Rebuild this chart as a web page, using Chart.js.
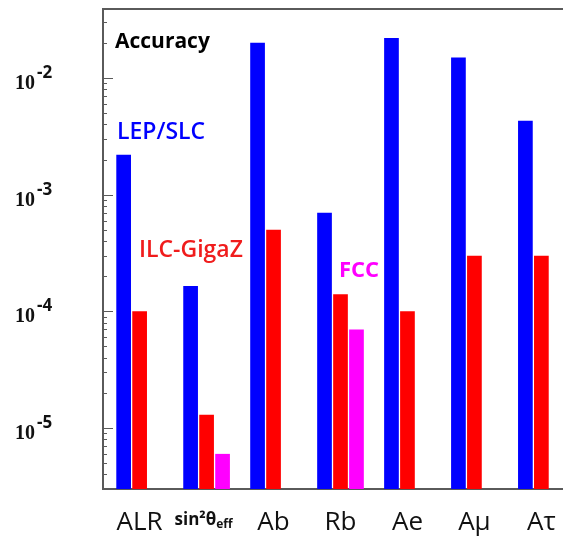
<!DOCTYPE html>
<html>
<head>
<meta charset="utf-8">
<title>Accuracy</title>
<script src="https://cdn.jsdelivr.net/npm/chart.js@4.4.1/dist/chart.umd.min.js"></script>
<style>
  html, body { margin: 0; padding: 0; background: #fff; }
</style>
</head>
<body>
<canvas id="chartAccuracy" width="563" height="541"></canvas>
<script>
// values (log scale)
const categories = ['ALR', 'sin²θeff', 'Ab', 'Rb', 'Ae', 'Aμ', 'Aτ'];
const lepSlc   = [2.2e-3, 1.65e-4, 2.0e-2, 7.0e-4, 2.2e-2, 1.5e-2, 4.3e-3];
const ilcGigaZ = [1.0e-4, 1.3e-5, 5.0e-4, 1.4e-4, 1.0e-4, 3.0e-4, 3.0e-4];
const fcc      = [null, 6.0e-6, null, 7.0e-5, null, null, null];
const yTickValues = [1e-5, 1e-4, 1e-3, 1e-2];
const yTickExponents = ['-5', '-4', '-3', '-2'];

const axisColor = '#5a5a5a';

// frame, inward ticks, labels and the notes inside the plot
const decor = {
    id: 'decor',
    afterDraw(chart) {
        const ctx = chart.ctx;
        const area = chart.chartArea;
        const y = chart.scales.y;
        const x = chart.scales.x;
        ctx.save();

        ctx.strokeStyle = axisColor;
        ctx.lineWidth = 2;
        ctx.beginPath();
        ctx.moveTo(area.left, area.top);
        ctx.lineTo(chart.width, area.top);
        ctx.stroke();

        ctx.lineWidth = 1;
        y.ticks.forEach(t => {
            const py = Math.round(y.getPixelForValue(t.value)) + 0.5;
            ctx.beginPath();
            ctx.moveTo(area.left, py);
            ctx.lineTo(area.left + (t.major ? 10 : 4), py);
            ctx.stroke();
        });

        ctx.fillStyle = '#111';
        ctx.textAlign = 'left';
        ctx.textBaseline = 'alphabetic';
        yTickValues.forEach((v, i) => {
            const py = y.getPixelForValue(v);
            ctx.font = 'bold 20px "Liberation Serif"';
            ctx.fillText('10', 15, py + 11);
            ctx.font = 'bold 17px "Open Sans"';
            ctx.fillText(yTickExponents[i], 37, py);
        });

        // sin²θ with subscript eff
        const cx = x.getPixelForValue(1);
        ctx.font = 'bold 17px "Open Sans"';
        const w1 = ctx.measureText('sin²θ').width;
        ctx.font = 'bold 12px "Open Sans"';
        const w2 = ctx.measureText('eff').width;
        const left = cx - (w1 + w2) / 2 - 3;
        ctx.font = 'bold 17px "Open Sans"';
        ctx.fillText('sin²θ', left, 525);
        ctx.font = 'bold 12px "Open Sans"';
        ctx.fillText('eff', left + w1, 528);

        ctx.font = 'bold 21px "Open Sans"';
        ctx.fillStyle = '#000';
        ctx.fillText('Accuracy', 115, 48);
        ctx.font = '600 23px "Open Sans"';
        ctx.fillStyle = '#0000ff';
        ctx.fillText('LEP/SLC', 117, 139);
        ctx.fillStyle = '#f01c1c';
        ctx.fillText('ILC-GigaZ', 139, 257);
        ctx.font = 'bold 22px "Open Sans"';
        ctx.fillStyle = '#ff00ff';
        ctx.fillText('FCC', 339, 277);
        ctx.restore();
    }
};

const toPoints = arr => arr.map((v, i) => ({ x: i, y: v }));

new Chart(document.getElementById('chartAccuracy'), {
    type: 'bar',
    data: {
        datasets: [
            { label: 'LEP/SLC', data: toPoints(lepSlc), backgroundColor: '#0000ff' },
            { label: 'ILC-GigaZ', data: toPoints(ilcGigaZ), backgroundColor: '#ff0000' },
            { label: 'FCC', data: toPoints(fcc), backgroundColor: '#ff00ff' }
        ]
    },
    options: {
        responsive: false,
        animation: false,
        categoryPercentage: 0.716,
        barPercentage: 0.92,
        layout: { padding: { left: 103, top: 9, right: 0, bottom: 0 } },
        plugins: { legend: { display: false }, tooltip: { enabled: false } },
        scales: {
            x: {
                type: 'linear',
                offset: false,
                min: -0.547,
                max: 6.323,
                afterBuildTicks: s => { s.ticks = categories.map((c, i) => ({ value: i })); },
                afterFit: s => { s.height = 52; s.paddingLeft = 0; s.paddingRight = 0; },
                grid: { display: false, drawTicks: false, offset: false },
                border: { display: true, color: axisColor, width: 2 },
                ticks: {
                    autoSkip: false,
                    maxRotation: 0,
                    padding: 18,
                    color: '#111',
                    font: { family: 'Open Sans', size: 26 },
                    callback: v => (v === 1 ? '' : categories[v])
                }
            },
            y: {
                type: 'logarithmic',
                min: 3e-6,
                max: 3.9e-2,
                afterBuildTicks: s => {
                    const t = [];
                    for (let e = -6; e <= -2; e++) {
                        for (let m = 1; m <= 9; m++) {
                            const v = m * Math.pow(10, e);
                            if (v >= s.min && v <= s.max) t.push({ value: v, major: m === 1 });
                        }
                    }
                    s.ticks = t;
                },
                grid: { display: false, drawTicks: false },
                border: { display: true, color: axisColor, width: 2 },
                ticks: { display: false }
            }
        }
    },
    plugins: [decor]
});
</script>
</body>
</html>
